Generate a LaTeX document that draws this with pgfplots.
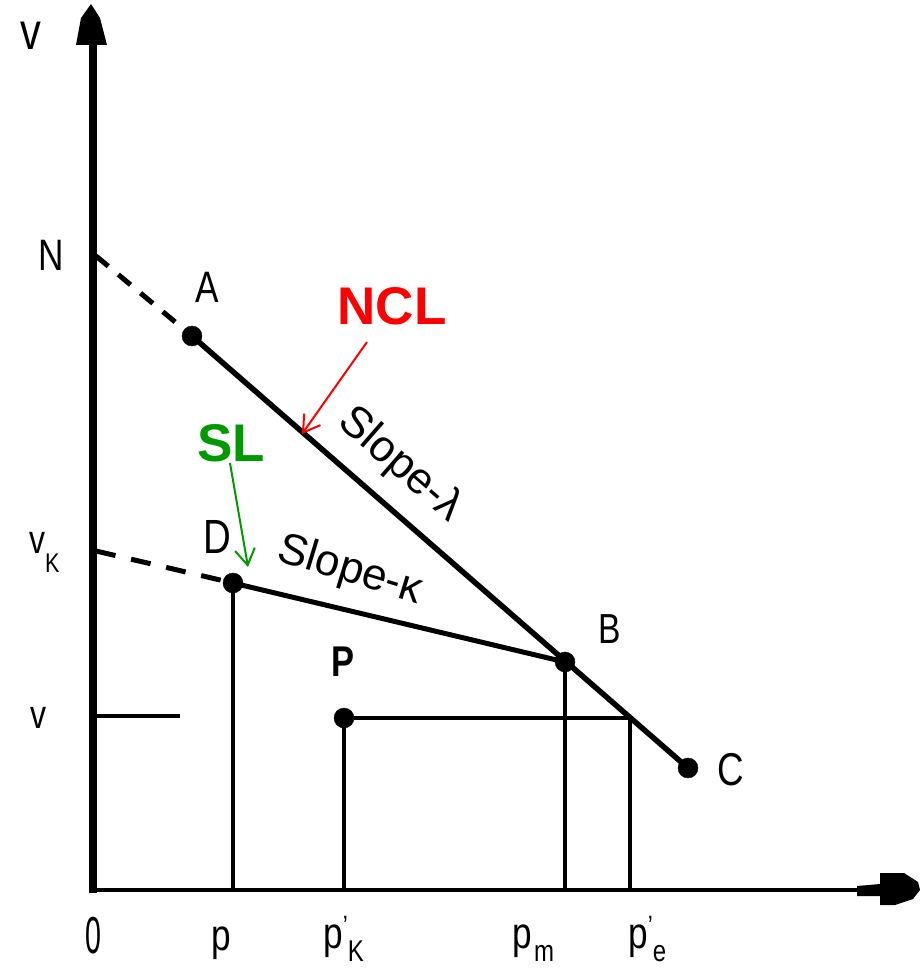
\documentclass[border=0pt]{standalone}
\usepackage{pgfplots}
\pgfplotsset{compat=1.18}
\usepackage{fontspec}
\setmainfont{Liberation Sans}
\usepackage{graphicx}
\usetikzlibrary{arrows.meta}

\definecolor{slgreen}{RGB}{0,153,0}

% narrow label text at a given size
\newcommand\lb[2]{{\fontsize{#1}{#1}\selectfont\scalebox{0.8}[1]{#2}}}
% p with optional prime and subscript
\newcommand\pr{\raisebox{13pt}{\fontsize{28}{28}\selectfont'}}
\newcommand\sub[1]{\raisebox{-13pt}{\fontsize{30}{30}\selectfont #1}}

\begin{document}
\begin{tikzpicture}
\begin{axis}[
  width=920pt, height=971pt, scale only axis,
  xmin=0, xmax=920, ymin=0, ymax=971, y dir=reverse,
  axis line style={draw=none}, ticks=none, clip=false,
]
% frame of the picture
\addplot[draw=none, forget plot] coordinates {(0,0) (920,971)};

% axes with arrowheads
\addplot[line width=8pt] coordinates {(93,893) (93,40)};
\addplot[fill=black, draw=none] coordinates {(91,4) (100,18) (107,45) (76,45) (81,18)} -- cycle;
\addplot[line width=4.5pt] coordinates {(89,890) (885,890)};
\addplot[fill=black, draw=none] coordinates {(857,886) (880,884) (880,873) (904,873) (918,882) (920,890) (913,899) (895,905) (880,905) (880,896) (857,896)} -- cycle;

% extrapolations back to the v axis
\addplot[line width=5pt, dash pattern=on 16pt off 13pt] coordinates {(96,256) (192,336)};
\addplot[line width=5pt, dash pattern=on 20pt off 16pt] coordinates {(96,551) (233,583)};

% normal compression line A-C and swelling line D-B
\addplot[line width=5.5pt] coordinates {(192,336) (688,768)};
\addplot[line width=5pt] coordinates {(233,583) (565,662)};

% projections
\addplot[line width=4.5pt] coordinates {(233,583) (233,890)};
\addplot[line width=4.5pt] coordinates {(565,662) (565,890)};
\addplot[line width=4.5pt] coordinates {(344,718) (344,890)};
\addplot[line width=4.5pt] coordinates {(630,718) (630,890)};
\addplot[line width=4pt] coordinates {(344,718) (630,718)};
\addplot[line width=3.5pt] coordinates {(96,716) (180,716)};

% state points A, D, B, C, P
\addplot[only marks, mark=*, mark size=10pt] coordinates {(192,336) (233,583) (565,662) (688,768) (344,718)};

% pointers
\addplot[red, line width=2pt, -{Straight Barb[length=16pt,width=20pt]}] coordinates {(367,342) (302,434)};
\addplot[slgreen, line width=2pt, -{Straight Barb[length=16pt,width=20pt]}] coordinates {(230,463) (248,567)};

% labels
\node[anchor=base west, inner sep=0pt] at (axis cs:20,50) {\lb{52}{v}};
\node[anchor=base west, inner sep=0pt] at (axis cs:38,270) {\lb{44}{N}};
\node[anchor=base west, inner sep=0pt] at (axis cs:29,553) {\lb{40}{v\raisebox{-19pt}{\fontsize{27}{27}\selectfont K}}};
\node[anchor=base west, inner sep=0pt] at (axis cs:30,728) {\lb{40}{v}};
\node[anchor=base west, inner sep=0pt] at (axis cs:195,302) {\lb{44}{A}};
\node[anchor=base west, inner sep=0pt] at (axis cs:203,553) {\lb{48}{D}};
\node[anchor=base west, inner sep=0pt] at (axis cs:598,643) {\lb{42}{B}};
\node[anchor=base west, inner sep=0pt] at (axis cs:717,785) {\lb{46}{C}};
\node[anchor=base west, inner sep=0pt] at (axis cs:331,676) {\lb{43}{\bfseries P}};

\node[red, inner sep=0pt] at (axis cs:392,306) {\fontsize{53}{53}\selectfont\bfseries NCL};
\node[slgreen, inner sep=0pt] at (axis cs:231,443) {\fontsize{53}{53}\selectfont\bfseries SL};

\node[rotate=-41, inner sep=0pt] at (axis cs:400,465) {\fontsize{44}{44}\selectfont Slope-λ};
\node[rotate=-17, inner sep=0pt] at (axis cs:350,571) {\fontsize{44}{44}\selectfont Slope-κ};

% values on the p' axis
\node[anchor=base west, inner sep=0pt] at (axis cs:85,953) {{\fontsize{52}{52}\selectfont\scalebox{0.55}[1]{0}}};
\node[anchor=base west, inner sep=0pt] at (axis cs:211,950) {\lb{44}{p}};
\node[anchor=base west, inner sep=0pt] at (axis cs:323,948) {\lb{44}{p\pr\sub{K}}};
\node[anchor=base west, inner sep=0pt] at (axis cs:512,948) {\lb{44}{p\kern3pt\sub{m}}};
\node[anchor=base west, inner sep=0pt] at (axis cs:628,948) {\lb{44}{p\pr\sub{e}}};
\end{axis}
\end{tikzpicture}
\end{document}
